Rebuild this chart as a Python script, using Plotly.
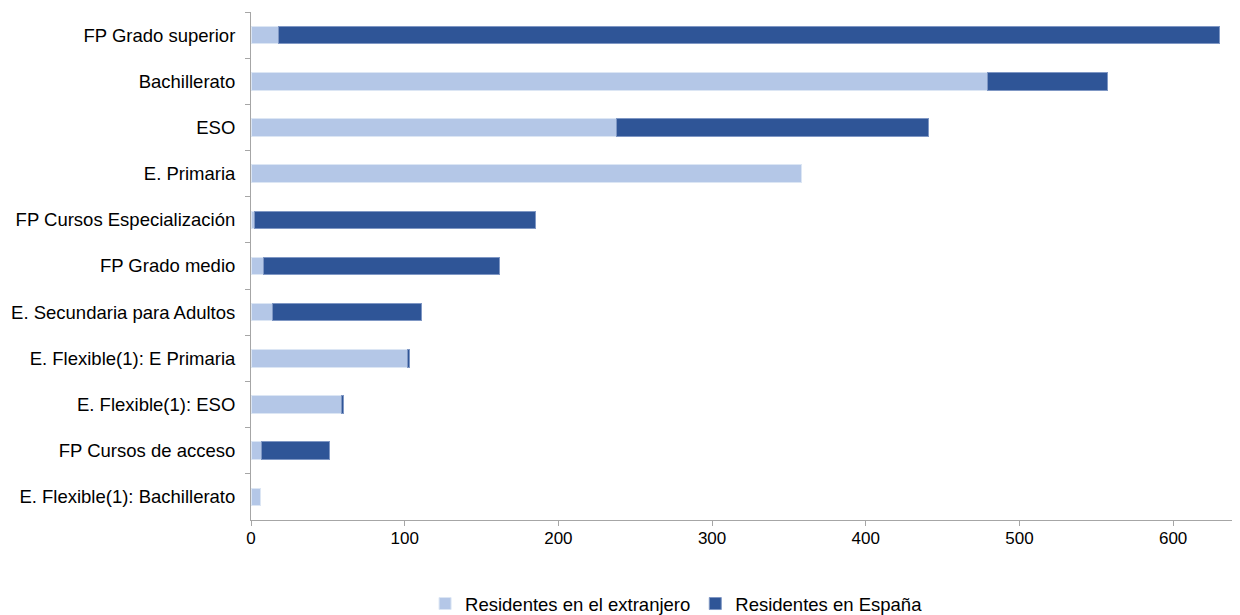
import plotly.graph_objects as go

categories = [
    "FP Grado superior",
    "Bachillerato",
    "ESO",
    "E. Primaria",
    "FP Cursos Especialización",
    "FP Grado medio",
    "E. Secundaria para Adultos",
    "E. Flexible(1): E Primaria",
    "E. Flexible(1): ESO",
    "FP Cursos de acceso",
    "E. Flexible(1): Bachillerato",
]
extranjero = [18, 479, 238, 358, 2, 8, 14, 102, 59, 7, 6]
espana = [612, 78, 203, 0, 183, 154, 97, 1, 1, 44, 0]
x_ticks = [0, 100, 200, 300, 400, 500, 600]

font = dict(family="Liberation Sans, Arial, sans-serif", size=18.5, color="#000000")

fig = go.Figure()
fig.add_trace(go.Bar(
    y=categories, x=extranjero, orientation="h", name="Residentes en el extranjero",
    marker=dict(color="#B4C7E7",
                line=dict(color="#DCE6F4", width=[0 if v == 0 else 1 for v in extranjero])),
))
fig.add_trace(go.Bar(
    y=categories, x=espana, orientation="h", name="Residentes en España",
    marker=dict(color="#2F5597",
                line=dict(color="#7F97C4", width=[0 if v == 0 else 1 for v in espana])),
))

fig.update_layout(
    barmode="stack",
    bargap=0.62,
    width=1232, height=615,
    margin=dict(l=243, r=0, t=4, b=96),
    paper_bgcolor="white", plot_bgcolor="white",
    font=font,
    showlegend=True,
    legend=dict(orientation="h", x=0.176, xanchor="left", y=-0.166, yanchor="middle",
                font=dict(size=18.5), itemwidth=30, traceorder="normal"),
    xaxis=dict(range=[0, 643.5], tickvals=x_ticks, showgrid=False, zeroline=False,
               showline=True, linecolor="#A6A6A6", linewidth=1,
               ticks="outside", ticklen=5, tickcolor="#A6A6A6",
               tickfont=dict(size=17), ticklabelstandoff=-2, automargin=False),
    yaxis=dict(autorange="reversed", showgrid=False, showline=True, linecolor="#A6A6A6",
               linewidth=1, ticks="outside", ticklen=5, tickcolor="#A6A6A6",
               tickson="boundaries", ticklabelstandoff=11, tickfont=dict(size=18.5),
               automargin=False),
)

fig.write_html("out.html")
